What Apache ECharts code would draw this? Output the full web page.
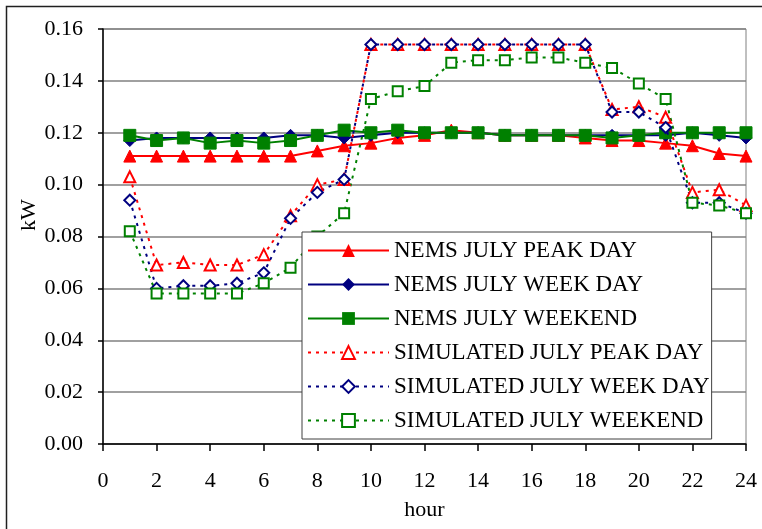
<!DOCTYPE html>
<html>
<head>
<meta charset="utf-8">
<script src="https://cdn.jsdelivr.net/npm/echarts@6/dist/echarts.min.js"></script>
<style>html,body{margin:0;padding:0;background:#fff;}#c{width:762px;height:529px;}</style>
</head>
<body>
<div id="c"></div>
<script>
var hours = [1,2,3,4,5,6,7,8,9,10,11,12,13,14,15,16,17,18,19,20,21,22,23,24];
var nemsPeak    = [0.111,0.111,0.111,0.111,0.111,0.111,0.111,0.113,0.115,0.116,0.118,0.119,0.121,0.120,0.119,0.119,0.119,0.118,0.117,0.117,0.116,0.115,0.112,0.111];
var nemsWeekDay = [0.117,0.118,0.118,0.118,0.118,0.118,0.119,0.119,0.118,0.119,0.120,0.120,0.120,0.120,0.119,0.119,0.119,0.119,0.119,0.119,0.119,0.120,0.119,0.118];
var nemsWeekend = [0.119,0.117,0.118,0.116,0.117,0.116,0.117,0.119,0.121,0.120,0.121,0.120,0.120,0.120,0.119,0.119,0.119,0.119,0.118,0.119,0.120,0.120,0.120,0.120];
var simPeak     = [0.103,0.069,0.070,0.069,0.069,0.073,0.088,0.100,0.102,0.154,0.154,0.154,0.154,0.154,0.154,0.154,0.154,0.154,0.129,0.130,0.126,0.097,0.098,0.092];
var simWeekDay  = [0.094,0.060,0.061,0.061,0.062,0.066,0.087,0.097,0.102,0.154,0.154,0.154,0.154,0.154,0.154,0.154,0.154,0.154,0.128,0.128,0.122,0.093,0.093,0.089];
var simWeekend  = [0.082,0.058,0.058,0.058,0.058,0.062,0.068,0.080,0.089,0.133,0.136,0.138,0.147,0.148,0.148,0.149,0.149,0.147,0.145,0.139,0.133,0.093,0.092,0.089];
var seriesNames = ['NEMS JULY PEAK DAY','NEMS JULY WEEK DAY','NEMS JULY WEEKEND','SIMULATED JULY PEAK DAY','SIMULATED JULY WEEK DAY','SIMULATED JULY WEEKEND'];

function pairs(vals){ return hours.map(function(h,i){ return [h, vals[i]]; }); }
var FONT = '"Liberation Serif","Times New Roman",serif';

function solid(name, vals, color, symbol, size){
  return {name:name, type:'line', data:pairs(vals), symbol:symbol, symbolSize:size,
    lineStyle:{color:color, width:2}, itemStyle:{color:color, borderColor:color},
    emphasis:{disabled:true}, animation:false, z:2};
}
function dotted(name, vals, color, symbol, size){
  return {name:name, type:'line', data:pairs(vals), symbol:symbol, symbolSize:size,
    lineStyle:{color:color, width:2, type:[3,5]},
    itemStyle:{color:'#fff', borderColor:color, borderWidth:2},
    emphasis:{disabled:true}, animation:false, z:3};
}

var chart = echarts.init(document.getElementById('c'), null, {renderer:'canvas'});
chart.setOption({
  backgroundColor:'#fff',
  animation:false,
  textStyle:{fontFamily:FONT},
  grid:{left:103, right:16, top:29, bottom:85, show:true, borderColor:'#808080', borderWidth:1},
  xAxis:{type:'value', min:0, max:24, interval:2,
    name:'hour', nameLocation:'middle', nameGap:55,
    nameTextStyle:{fontSize:22, color:'#000', fontFamily:FONT},
    axisLine:{show:true, lineStyle:{color:'#000', width:1.5}},
    axisTick:{show:true, length:7, lineStyle:{color:'#000', width:1.5}},
    axisLabel:{fontSize:22, color:'#000', margin:26, fontFamily:FONT},
    splitLine:{show:false}},
  yAxis:{type:'value', min:0, max:0.16, interval:0.02,
    axisLine:{show:true, lineStyle:{color:'#000', width:1.5}},
    axisTick:{show:true, length:5, lineStyle:{color:'#000', width:1.5}},
    axisLabel:{fontSize:22, color:'#000', margin:20, fontFamily:FONT, formatter:function(v){return v.toFixed(2);}},
    splitLine:{show:true, lineStyle:{color:'#808080', width:1.5}}},
  legend:{orient:'vertical', left:302, top:232,
    backgroundColor:'#fff', borderColor:'#404040', borderWidth:1,
    padding:[7,2,7,5], itemWidth:81, itemHeight:16, itemGap:11,
    textStyle:{fontSize:23, color:'#000', fontFamily:FONT, lineHeight:20},
    data:seriesNames},
  graphic:[
    {type:'rect', shape:{x:6.5, y:6.5, width:800, height:600}, style:{fill:'none', stroke:'#202020', lineWidth:1.5}, silent:true},
    {type:'text', x:29, y:215, rotation:Math.PI/2, style:{text:'kW', font:'22px "Liberation Serif"', fill:'#000', align:'center', verticalAlign:'middle'}, silent:true}
  ],
  series:[
    solid(seriesNames[0], nemsPeak, '#FF0000', 'triangle', 12),
    solid(seriesNames[1], nemsWeekDay, '#000080', 'diamond', 12),
    solid(seriesNames[2], nemsWeekend, '#008000', 'rect', 12),
    dotted(seriesNames[3], simPeak, '#FF0000', 'triangle', 11),
    dotted(seriesNames[4], simWeekDay, '#000080', 'diamond', 11),
    dotted(seriesNames[5], simWeekend, '#008000', 'rect', 10)
  ]
});
</script>
</body>
</html>
